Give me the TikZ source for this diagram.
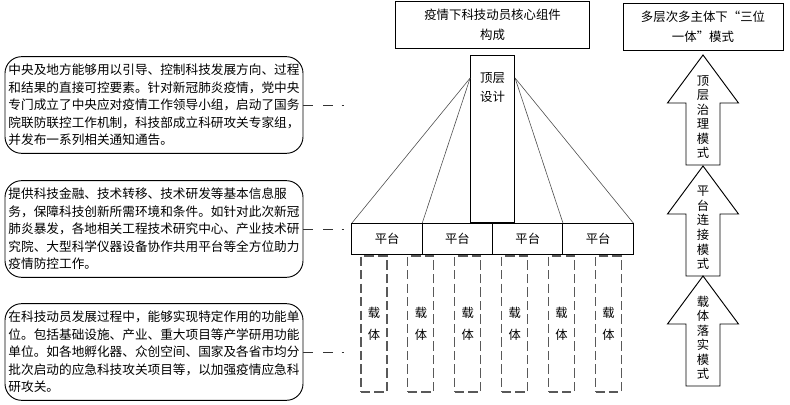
\documentclass[tikz,border=0pt]{standalone}
\usepackage{fontspec}
\setmainfont{Noto Sans CJK SC}
\usetikzlibrary{positioning, calc}

\begin{document}
\begin{tikzpicture}[x=0.03cm, y=-0.03cm]
        \tikzstyle{title} = [rectangle, minimum height=1.41cm, text centered, align=center, draw=black, line width=0.8pt, font=\fontsize{10.6}{17}\selectfont]
        \tikzstyle{note} = [rectangle, rounded corners=0.5cm, minimum width=8.94cm, minimum height=2.9cm, inner xsep=2pt, align=left, draw=black, line width=0.8pt, font=\fontsize{10.8}{14.9}\selectfont]
        \tikzstyle{design} = [rectangle, minimum width=1.32cm, minimum height=5.01cm, inner sep=0pt, draw=black, line width=0.8pt]
        \tikzstyle{platform} = [rectangle, minimum width=2.11cm, minimum height=0.93cm, inner sep=0pt, outer sep=0pt, draw=black, line width=0.8pt, font=\fontsize{10.5}{12}\selectfont]
        \tikzstyle{carrier} = [rectangle, minimum width=0.78cm, minimum height=4.08cm, inner sep=0pt, align=center, draw=black!65, line width=0.9pt, dash pattern=on 8pt off 3.5pt, font=\fontsize{10.5}{18.7}\selectfont]
        \tikzstyle{link} = [draw=black!80, line width=0.8pt, dash pattern=on 8.5pt off 8.5pt on 8.5pt off 7pt on 2.5pt off 20pt]
        \tikzstyle{fan} = [draw=black!70, line width=0.5pt]
        \tikzstyle{mode} = [draw=black, line width=0.8pt]
        \tikzstyle{modetext} = [align=center, inner sep=0pt, font=\fontsize{10.5}{12.4}\selectfont]

        \useasboundingbox (0,0) rectangle (790,405);

        % left: explanation boxes
        \node (b1) [note] at (154,105) {中央及地方能够用以引导、控制科技发展方向、过程\\和结果的直接可控要素。针对新冠肺炎疫情，党中央\\专门成立了中央应对疫情工作领导小组，启动了国务\\院联防联控工作机制，科技部成立科研攻关专家组，\\并发布一系列相关通知通告。};
        \node (b2) [note] at (154,229) {提供科技金融、技术转移、技术研发等基本信息服\\务，保障科技创新所需环境和条件。如针对此次新冠\\肺炎暴发，各地相关工程技术研究中心、产业技术研\\究院、大型科学仪器设备协作共用平台等全方位助力\\疫情防控工作。};
        \node (b3) [note] at (154,352) {在科技动员发展过程中，能够实现特定作用的功能单\\位。包括基础设施、产业、重大项目等产学研用功能\\单位。如各地孵化器、众创空间、国家及各省市均分\\批次启动的应急科技攻关项目等，以加强疫情应急科\\研攻关。};

        \coordinate (e1) at (345,105);
        \coordinate (e2) at (345,229);
        \coordinate (e3) at (345,352);
        \draw [link] (b1.east) -- (e1);
        \draw [link] (b2.east) -- (e2);
        \draw [link] (b3.east) -- (e3);

        % middle: core components
        \node (p1) [platform] at (387.1,238.5) {平台};
        \node (p2) [platform, right=0pt of p1] {平台};
        \node (p3) [platform, right=0pt of p2] {平台};
        \node (p4) [platform, right=0pt of p3] {平台};

        \node (top) [design, above=0pt of p2.north east] {};
        \node (toptext) [align=center, inner sep=0pt, font=\fontsize{10.6}{16.2}\selectfont] at ($(top.north)+(0,32.5)$) {顶层\\设计};
        \node (core) [title, minimum width=5.82cm, above=0.18cm of top] {疫情下科技动员核心组件\\构成};

        \coordinate (tl) at ($(top.north west)+(0,23)$);
        \coordinate (tr) at ($(top.north east)+(0,23)$);
        \draw [fan] (tl) -- (p1.north west);
        \draw [fan] (tl) -- (p1.north east);
        \draw [fan] (tr) -- (p4.north west);
        \draw [fan] (tr) -- (p4.north east);

        \foreach \i in {1,...,6}
            \node (c\i) [carrier] at ({374+46.9*(\i-1)},324) {载\\体};

        % right: three-in-one modes
        \node (three) [title, minimum width=4.8cm] at (703,26.5) {多层次多主体下“三位\\一体”模式};
        \foreach \ty/\txt [count=\i] in {55/{顶\\层\\治\\理\\模\\式}, 166/{平\\台\\连\\接\\模\\式}, 276/{载\\体\\落\\实\\模\\式}} {
            \draw [mode] (703,\ty) -- ++(35.5,48) -- ++(-18.5,0) -- ++(0,62) -- ++(-34,0) -- ++(0,-62) -- ++(-18.5,0) -- cycle;
            \node (m\i) [modetext] at (703,\ty+62) {\txt};
        }
    \end{tikzpicture}
\end{document}
